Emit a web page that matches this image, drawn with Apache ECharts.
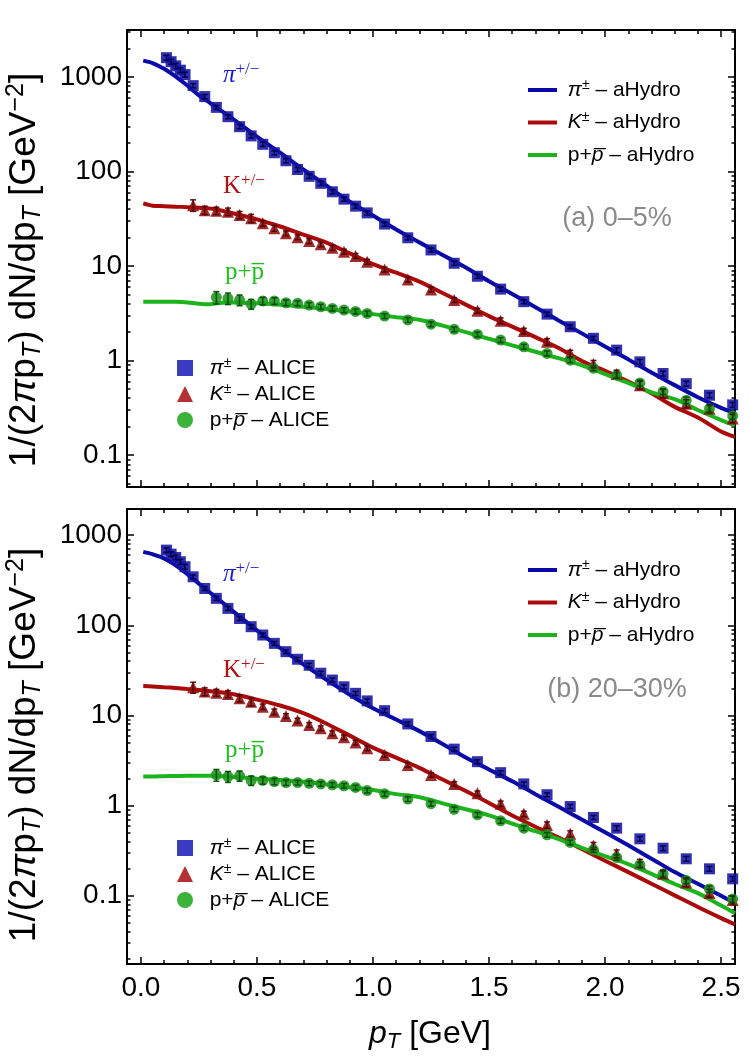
<!DOCTYPE html>
<html>
<head>
<meta charset="utf-8">
<script src="https://cdn.jsdelivr.net/npm/echarts@6/dist/echarts.min.js"></script>
<style>
  html, body { margin: 0; padding: 0; background: #fff; }
  #chart { width: 750px; height: 1061px; }
</style>
</head>
<body>
<div id="chart"></div>
<script>
// aHydro curves, sampled on a common pT grid
const ptModel = [0.01, 0.05, 0.1, 0.15, 0.2, 0.25, 0.3, 0.35, 0.4, 0.5, 0.6, 0.7, 0.8, 0.9, 1.0, 1.1,
  1.2, 1.3, 1.4, 1.5, 1.6, 1.7, 1.8, 1.9, 2.0, 2.1, 2.2, 2.3, 2.4, 2.5, 2.56]

// (a) 0-5%
const topPiModel = [1490, 1405, 1220, 1010, 812, 640, 527, 433, 355, 234, 158, 105, 70.8, 47.9, 34.3, 24.4,
  17.8, 13.1, 9.64, 6.89, 5.06, 3.67, 2.66, 1.94, 1.41, 1.03, 0.75, 0.55, 0.41, 0.316, 0.276]
const topKModel = [46, 43.5, 43, 42.5, 42, 41.3, 40.5, 38.5, 36, 31.2, 26.2, 21.5, 17.7, 13.6, 10.5, 8.5,
  6.85, 5.18, 3.91, 2.95, 2.29, 1.77, 1.36, 0.99, 0.78, 0.6, 0.45, 0.324, 0.25, 0.178, 0.156]
const topPModel = [4.19, 4.2, 4.2, 4.18, 4.12, 4.0, 3.95, 4.1, 4.12, 4.03, 3.9, 3.72, 3.52, 3.3, 3.1, 2.88,
  2.7, 2.34, 2.0, 1.7, 1.45, 1.24, 1.06, 0.89, 0.72, 0.58, 0.46, 0.39, 0.3, 0.235, 0.207]

// (b) 20-30%
const botPiModel = [653, 615, 553, 462, 370, 290, 228, 180, 141, 88, 56, 36.8, 24.8, 17, 12, 9,
  6.7, 4.82, 3.41, 2.52, 1.86, 1.34, 0.97, 0.7, 0.505, 0.363, 0.258, 0.183, 0.136, 0.1, 0.083]
const botKModel = [21.2, 21, 20.6, 20.2, 19.7, 19.2, 18.6, 18, 17.2, 15, 12.9, 10.6, 8.1, 5.97, 4.4, 3.4,
  2.62, 1.95, 1.45, 1.07, 0.776, 0.582, 0.443, 0.33, 0.245, 0.183, 0.136, 0.101, 0.075, 0.0565, 0.048]
const botPModel = [2.1, 2.1, 2.12, 2.13, 2.14, 2.15, 2.14, 2.12, 2.08, 1.99, 1.92, 1.84, 1.72, 1.6, 1.49, 1.34,
  1.24, 1.06, 0.91, 0.78, 0.63, 0.52, 0.425, 0.34, 0.275, 0.225, 0.175, 0.135, 0.107, 0.078, 0.064]

// ALICE points
const ptPi = [0.11, 0.13, 0.15, 0.17, 0.19, 0.225, 0.275, 0.325, 0.375, 0.425, 0.475, 0.525, 0.575, 0.625,
  0.675, 0.725, 0.775, 0.825, 0.875, 0.925, 0.975, 1.05, 1.15, 1.25, 1.35, 1.45, 1.55, 1.65, 1.75, 1.85,
  1.95, 2.05, 2.15, 2.25, 2.35, 2.45, 2.55]
const topPi = [1600, 1450, 1310, 1180, 1060, 810, 620, 477, 380, 298, 238, 194, 158, 130,
  105, 89, 75, 61, 51, 43, 36.5, 27.8, 19.9, 14.8, 10.7, 7.8, 5.7, 4.2, 3.1, 2.28,
  1.72, 1.29, 0.97, 0.73, 0.57, 0.43, 0.34]
const botPi = [682, 616, 566, 507, 446, 345, 256, 199, 154, 119, 96.5, 78, 63, 51,
  42, 36, 29.4, 24.7, 20.8, 17.6, 14.5, 11.3, 8.05, 5.84, 4.23, 3.07, 2.32, 1.74, 1.32, 0.976,
  0.738, 0.562, 0.428, 0.337, 0.257, 0.199, 0.154]
const errPi = [0.06, 0.06, 0.06, 0.06, 0.06, 0.05, 0.05, 0.05, 0.05, 0.05, 0.05, 0.05, 0.05, 0.05,
  0.05, 0.05, 0.05, 0.05, 0.05, 0.05, 0.05, 0.05, 0.05, 0.05, 0.05, 0.05, 0.05, 0.05, 0.05, 0.05,
  0.05, 0.06, 0.06, 0.06, 0.06, 0.06, 0.06]

const ptK = [0.225, 0.275, 0.325, 0.375, 0.425, 0.475, 0.525, 0.575, 0.625, 0.675, 0.725, 0.775, 0.825,
  0.875, 0.925, 0.975, 1.05, 1.15, 1.25, 1.35, 1.45, 1.55, 1.65, 1.75, 1.85, 1.95, 2.05, 2.15, 2.25,
  2.35, 2.45, 2.55]
const topK = [44, 39, 38.5, 37.6, 34.7, 32, 28.3, 25.1, 22.2, 20.2, 18.4, 17, 15.6,
  14.2, 12.8, 11.1, 9.2, 7.2, 5.66, 4.37, 3.37, 2.64, 2.05, 1.58, 1.19, 0.92, 0.72, 0.55, 0.45,
  0.35, 0.31, 0.244]
const botK = [20.5, 18.4, 17.9, 17.3, 15.5, 14.2, 12.5, 11.0, 9.86, 8.77, 7.85, 7.21, 6.35,
  5.73, 5.0, 4.33, 3.65, 2.83, 2.19, 1.74, 1.37, 1.05, 0.81, 0.61, 0.487, 0.358, 0.292, 0.23, 0.175,
  0.14, 0.107, 0.09]
const errK = [0.14, 0.1, 0.09, 0.09, 0.09, 0.1, 0.07, 0.07, 0.06, 0.06, 0.06, 0.06, 0.06,
  0.06, 0.06, 0.06, 0.06, 0.06, 0.06, 0.06, 0.06, 0.07, 0.07, 0.08, 0.08, 0.09, 0.1, 0.1, 0.1,
  0.1, 0.1, 0.1]

const ptP = [0.325, 0.375, 0.425, 0.475, 0.525, 0.575, 0.625, 0.675, 0.725, 0.775, 0.825, 0.875, 0.925,
  0.975, 1.05, 1.15, 1.25, 1.35, 1.45, 1.55, 1.65, 1.75, 1.85, 1.95, 2.05, 2.15, 2.25, 2.35, 2.45, 2.55]
const topP = [4.67, 4.55, 4.37, 3.96, 4.27, 4.27, 4.09, 4.03, 3.87, 3.71, 3.56, 3.42, 3.31,
  3.15, 2.96, 2.69, 2.43, 2.14, 1.89, 1.65, 1.4, 1.19, 1.01, 0.83, 0.7, 0.58, 0.47, 0.38, 0.31, 0.26]
const botP = [2.19, 2.1, 2.14, 1.9, 1.9, 1.85, 1.8, 1.8, 1.77, 1.74, 1.7, 1.66, 1.59,
  1.47, 1.35, 1.18, 1.05, 0.91, 0.79, 0.678, 0.562, 0.474, 0.39, 0.323, 0.266, 0.22, 0.174, 0.148, 0.119, 0.092]
const errP = [0.15, 0.14, 0.13, 0.12, 0.09, 0.08, 0.07, 0.06, 0.06, 0.06, 0.06, 0.06, 0.06,
  0.06, 0.06, 0.06, 0.06, 0.06, 0.06, 0.06, 0.06, 0.06, 0.06, 0.06, 0.07, 0.07, 0.07, 0.08, 0.08, 0.08]

const xMajor = [0, 0.5, 1.0, 1.5, 2.0, 2.5]
const yMajor = [0.1, 1, 10, 100, 1000]
const xRange = [-0.06, 2.56]
const yRangeTop = [0.046, 3140]
const yRangeBot = [0.0175, 1950]

const FONT = 'Liberation Sans, Arial, sans-serif'
const SERIF = 'Liberation Serif, Times New Roman, serif'

const cBlue = '#0a0aa8', cRed = '#aa0a0a', cGreen = '#1db31d'
const mBlue = 'rgba(20,20,165,0.88)', mRed = 'rgba(145,15,15,0.88)', mGreen = 'rgba(30,150,30,0.88)'

// minor tick positions
const xMinor = []
for (let i = 0; i <= 25; i++) if (i % 5) xMinor.push(i / 10)
function logMinor(range) {
  const out = []
  for (let e = -3; e <= 4; e++) {
    for (let m = 2; m <= 9; m++) {
      const v = m * Math.pow(10, e)
      if (v > range[0] && v < range[1]) out.push(v)
    }
  }
  return out
}

const pairs = (xs, ys) => xs.map((x, i) => [x, ys[i]])
const errs = (xs, ys, rel) => xs.map((x, i) => [x, ys[i] * (1 - rel[i]), ys[i] * (1 + rel[i])])

function errorBars(color) {
  return function (params, api) {
    const x = api.value(0)
    const a = api.coord([x, api.value(2)])
    const b = api.coord([x, api.value(1)])
    const w = 3
    const st = { stroke: color, lineWidth: 1.5 }
    return {
      type: 'group',
      children: [
        { type: 'line', shape: { x1: a[0], y1: a[1], x2: b[0], y2: b[1] }, style: st },
        { type: 'line', shape: { x1: a[0] - w, y1: a[1], x2: a[0] + w, y2: a[1] }, style: st },
        { type: 'line', shape: { x1: b[0] - w, y1: b[1], x2: b[0] + w, y2: b[1] }, style: st }
      ]
    }
  }
}

const grids = [
  { left: 127, top: 30, width: 608, height: 457 },
  { left: 127, top: 509, width: 608, height: 455 }
]

const xAxes = []
const yAxes = []
grids.forEach((g, gi) => {
  const yr = gi === 0 ? yRangeTop : yRangeBot
  ;['bottom', 'top'].forEach(pos => {
    ;[[xMajor, 7], [xMinor, 4]].forEach(([vals, len], k) => {
      xAxes.push({
        type: 'value', gridIndex: gi, position: pos, min: xRange[0], max: xRange[1],
        axisLine: { show: false, onZero: false }, splitLine: { show: false },
        axisTick: { show: true, inside: true, length: len, customValues: vals, lineStyle: { color: '#000', width: 1.5 } },
        axisLabel: {
          show: gi === 1 && pos === 'bottom' && k === 0, customValues: xMajor,
          formatter: v => v.toFixed(1), fontSize: 28, fontFamily: FONT, color: '#000', margin: 10
        }
      })
    })
  })
  ;['left', 'right'].forEach(pos => {
    ;[[yMajor, 7], [logMinor(yr), 3.5]].forEach(([vals, len], k) => {
      yAxes.push({
        type: 'log', logBase: 10, gridIndex: gi, position: pos, min: yr[0], max: yr[1],
        axisLine: { show: false, onZero: false }, splitLine: { show: false },
        axisTick: { show: true, inside: true, length: len, customValues: vals, lineStyle: { color: '#000', width: 1.5 } },
        axisLabel: {
          show: pos === 'left' && k === 0, customValues: yMajor,
          formatter: v => String(v), fontSize: 28, fontFamily: FONT, color: '#000', margin: 5
        }
      })
    })
  })
})

const series = []
const panels = [
  { pi: topPiModel, k: topKModel, p: topPModel, dPi: topPi, dK: topK, dP: topP },
  { pi: botPiModel, k: botKModel, p: botPModel, dPi: botPi, dK: botK, dP: botP }
]
panels.forEach((pn, gi) => {
  const xi = gi * 4, yi = gi * 4
  ;[['piH', pn.pi, cBlue], ['kH', pn.k, cRed], ['pH', pn.p, cGreen]].forEach(([name, ys, c]) => {
    series.push({
      name, type: 'line', xAxisIndex: xi, yAxisIndex: yi, data: pairs(ptModel, ys),
      color: c, showSymbol: false, smooth: 0.3, clip: true, z: 2,
      lineStyle: { width: 4, color: c }
    })
  })
  ;[['piA', ptPi, pn.dPi, errPi, 'rect', 11, mBlue, 'rgba(0,0,70,0.9)'],
    ['kA', ptK, pn.dK, errK, 'triangle', 12, mRed, 'rgba(80,0,0,0.9)'],
    ['pA', ptP, pn.dP, errP, 'circle', 11, mGreen, 'rgba(0,70,0,0.9)']
  ].forEach(([name, xs, ys, rel, sym, size, c, ec]) => {
    series.push({
      name, type: 'scatter', xAxisIndex: xi, yAxisIndex: yi, data: pairs(xs, ys),
      symbol: sym, symbolSize: size, itemStyle: { color: c, opacity: 1 }, z: 3
    })
    series.push({
      type: 'custom', xAxisIndex: xi, yAxisIndex: yi, data: errs(xs, ys, rel),
      encode: { x: 0, y: [1, 2] }, renderItem: errorBars(ec), clip: true, z: 4, silent: true
    })
  })
})

const legendRich = {
  i: { fontStyle: 'italic', fontSize: 21, fontFamily: FONT, lineHeight: 24 },
  s: { fontSize: 14, fontFamily: FONT, verticalAlign: 'top', lineHeight: 14 },
  t: { fontSize: 21, fontFamily: FONT, lineHeight: 24 }
}
const legendNames = {
  piH: '{t| }{i|π}{s|±}{t| – aHydro}',
  kH: '{t| }{i|K}{s|±}{t| – aHydro}',
  pH: '{t| p+}{i|p\u0305}{t| – aHydro}',
  piA: '{t|  }{i|π}{s|±}{t| – ALICE}',
  kA: '{t|  }{i|K}{s|±}{t| – ALICE}',
  pA: '{t|  p+}{i|p\u0305}{t| – ALICE}'
}
function legendBlock(top, left, names, icon, w, h, gap, colors) {
  return {
    orient: 'vertical', left, top, icon, itemWidth: w, itemHeight: h, itemGap: gap,
    data: names.map((n, i) => colors ? { name: n, itemStyle: { color: colors[i], opacity: 1 } } : n),
    selectedMode: false, padding: 0,
    formatter: n => legendNames[n],
    textStyle: { fontSize: 21, fontFamily: FONT, color: '#000', lineHeight: 24, rich: legendRich }
  }
}
const legendMarkerColors = ['#3b3bc4', '#b23232', '#3cb43c']

const labRich = {
  a: { fontSize: 37, fontFamily: FONT, fill: '#000', lineHeight: 42 },
  i: { fontSize: 37, fontFamily: FONT, fontStyle: 'italic', fill: '#000', lineHeight: 42 },
  sub: { fontSize: 25, fontFamily: FONT, fontStyle: 'italic', fill: '#000', verticalAlign: 'bottom', lineHeight: 26 },
  sup: { fontSize: 25, fontFamily: FONT, fill: '#000', verticalAlign: 'top', lineHeight: 26 }
}
const xRich = {
  a: { fontSize: 32, fontFamily: FONT, fill: '#000', lineHeight: 38 },
  i: { fontSize: 32, fontFamily: FONT, fontStyle: 'italic', fill: '#000', lineHeight: 38 },
  sub: { fontSize: 22, fontFamily: FONT, fontStyle: 'italic', fill: '#000', verticalAlign: 'bottom', lineHeight: 24 }
}
const yLabel = '{a|1/(2}{i|π}{a|p}{sub|T}{a|) dN/dp}{sub|T}{a| [GeV}{sup|−2}{a|]}'

function tag(x, y, main, sup, color, italic) {
  return {
    type: 'text', x, y,
    style: {
      text: '{m|' + main + '}{s|' + sup + '}', fill: color, align: 'left', verticalAlign: 'middle',
      rich: {
        m: { fontSize: 25, fontFamily: SERIF, fontStyle: italic ? 'italic' : 'normal', fill: color, lineHeight: 28 },
        s: { fontSize: 17, fontFamily: SERIF, fill: color, verticalAlign: 'top', lineHeight: 16 }
      }
    }
  }
}
function ptag(x, y) {
  return {
    type: 'text', x, y,
    style: { text: 'p+p\u0305', fill: '#22bb22', font: '25px ' + SERIF, align: 'left', verticalAlign: 'middle' }
  }
}

const graphic = [
  { type: 'text', x: 25, y: 270, rotation: Math.PI / 2, style: { text: yLabel, rich: labRich, align: 'center', verticalAlign: 'middle' } },
  { type: 'text', x: 25, y: 745, rotation: Math.PI / 2, style: { text: yLabel, rich: labRich, align: 'center', verticalAlign: 'middle' } },
  { type: 'text', x: 430, y: 1034, style: { text: '{i|p}{sub|T}{a| [GeV]}', rich: xRich, align: 'center', verticalAlign: 'middle' } },
  { type: 'text', x: 617, y: 219, style: { text: '(a) 0–5%', fill: '#8a8a8a', font: '27px ' + FONT, align: 'center', verticalAlign: 'middle' } },
  { type: 'text', x: 617, y: 690, style: { text: '(b) 20–30%', fill: '#8a8a8a', font: '27px ' + FONT, align: 'center', verticalAlign: 'middle' } },
  tag(223, 75, 'π', '+/−', '#1c1cc8', true),
  tag(223, 186, 'K', '+/−', '#b01010', false),
  ptag(225, 272),
  tag(223, 574, 'π', '+/−', '#1c1cc8', true),
  tag(223, 670, 'K', '+/−', '#b01010', false),
  ptag(225, 750)
]

const chart = echarts.init(document.getElementById('chart'), null, { renderer: 'canvas' })
chart.setOption({
  animation: false,
  backgroundColor: '#fff',
  grid: grids.map(g => Object.assign({ show: true, borderColor: '#000', borderWidth: 2, backgroundColor: 'transparent' }, g)),
  xAxis: xAxes,
  yAxis: yAxes,
  legend: [
    legendBlock(78, 528, ['piH', 'kH', 'pH'], 'rect', 29, 4, 8.5),
    legendBlock(356, 177, ['piA', 'kA', 'pA'], null, 16, 16, 2, legendMarkerColors),
    legendBlock(558, 528, ['piH', 'kH', 'pH'], 'rect', 29, 4, 8.5),
    legendBlock(836, 177, ['piA', 'kA', 'pA'], null, 16, 16, 2, legendMarkerColors)
  ],
  series,
  graphic
})
</script>
</body>
</html>
